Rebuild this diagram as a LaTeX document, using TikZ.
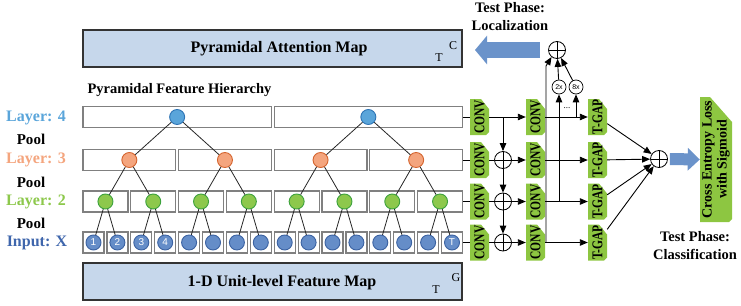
\documentclass[tikz,border=0pt]{standalone}
\usepackage{fontspec}
\setmainfont{Liberation Serif}
\newfontfamily\arialfont{Liberation Sans}
\usetikzlibrary{arrows.meta}

\definecolor{mapblue}{HTML}{C6D7EB}
\definecolor{arrowblue}{HTML}{6B93CA}
\definecolor{convgreen}{HTML}{8DC641}
\definecolor{layerfour}{HTML}{5AA5DA}
\definecolor{layerfourdk}{HTML}{2E74B5}
\definecolor{layerthree}{HTML}{F4A57E}
\definecolor{layerthreedk}{HTML}{D5652F}
\definecolor{layertwo}{HTML}{8DC84C}
\definecolor{layertwodk}{HTML}{3DA23D}
\definecolor{inputblue}{HTML}{658DC8}
\definecolor{inputbluedk}{HTML}{3B62A2}
\definecolor{inputtext}{HTML}{3F66AC}

\tikzset{
  mapbox/.style={draw=black!80, line width=1.3pt, fill=mapblue, inner sep=0pt},
  cellbox/.style={draw=black!50, line width=1.2pt, fill=white, inner sep=0pt, minimum height=21pt},
  unit/.style={circle, line width=0.9pt, minimum size=15pt, inner sep=0pt, text=white, font=\arialfont\fontsize{10}{10}\selectfont},
  edgeline/.style={black!85, line width=0.8pt},
  thinline/.style={line width=0.9pt},
  greenshape/.style 2 args={inner sep=0pt, path picture={
    \fill[convgreen] (path picture bounding box.south west) -- (path picture bounding box.north west)
      -- ([xshift=-#1]path picture bounding box.north east) -- ([yshift=-#2]path picture bounding box.north east)
      -- ([yshift=3pt]path picture bounding box.south east) -- ([xshift=-3pt]path picture bounding box.south east) -- cycle;}},
  conv/.style={greenshape={8pt}{10pt}, minimum width=19pt, minimum height=36pt, font=\bfseries\fontsize{11.5}{12}\selectfont},
  lossbox/.style={greenshape={22pt}{25pt}, minimum width=32pt, minimum height=125pt, font=\bfseries\fontsize{14}{15}\selectfont},
  oplus/.style={circle, draw, line width=0.8pt, minimum size=17pt, inner sep=0pt, path picture={
    \draw[line width=0.8pt] (path picture bounding box.north) -- (path picture bounding box.south)
      (path picture bounding box.west) -- (path picture bounding box.east);}},
  scaler/.style={circle, draw, line width=0.7pt, minimum size=14pt, inner sep=0pt, font=\arialfont\fontsize{7}{7}\selectfont},
  flow/.style={->, line width=0.9pt},
  mainttl/.style={font=\bfseries\fontsize{16}{18}\selectfont},
  sidetext/.style={font=\bfseries\fontsize{16}{18}\selectfont},
  pooltext/.style={font=\bfseries\fontsize{15}{18}\selectfont},
  phase/.style={font=\bfseries\fontsize{14.5}{18}\selectfont, align=center},
  corner/.style={font=\fontsize{12}{12}\selectfont, inner sep=0pt},
}
\newcommand\convtext[1]{\rotatebox{90}{\scalebox{1}[1.3]{#1}}\hspace{6pt}}

\begin{document}
\begin{tikzpicture}[x=1pt, y=-1pt, >={Triangle[length=8pt,width=6.5pt]}]
  \useasboundingbox (0,0) rectangle (741,305);

  % 上と下の箱
  \node[mapbox, minimum width=379pt, minimum height=37pt] (attbox) at (272.5,48.5) {};
  \node[mainttl] (atttext) at (279,49) {Pyramidal Attention Map};
  \node[corner] (attT) at (439,58) {T};
  \node[corner] (attC) at (453,46) {C};

  \node[mapbox, minimum width=379pt, minimum height=37pt] (featbox) at (272.5,281.5) {};
  \node[mainttl] (feattext) at (282,283) {1-D Unit-level Feature Map};
  \node[corner] (featT) at (436,290) {T};
  \node[corner] (featG) at (456,278) {G};

  \node[phase, anchor=west] (hier) at (84,90) {Pyramidal Feature Hierarchy};

  % 左の文字
  \node[sidetext, text=layerfour] (lab4) at (36,118) {Layer: 4};
  \node[pooltext] (pool4) at (31,139) {Pool};
  \node[sidetext, text=layerthree] (lab3) at (36,160) {Layer: 3};
  \node[pooltext] (pool3) at (31,182) {Pool};
  \node[sidetext, text=layertwo] (lab2) at (36,202) {Layer: 2};
  \node[pooltext] (pool2) at (31,223) {Pool};
  \node[sidetext, text=inputtext] (labin) at (37,243) {Input: X};

  % 入力
  \foreach \i/\t in {1/1,2/2,3/3,4/4,5/{},6/{},7/{},8/{},9/{},10/{},11/{},12/{},13/{},14/{},15/{},16/T} {
    \pgfmathsetmacro\xc{93.5+(\i-1)*23.9}
    \node[cellbox, minimum width=21pt] (bin\i) at (\xc,242.5) {};
    \node[unit, fill=inputblue, draw=inputbluedk] (in\i) at (\xc,242.5) {\t};
  }

  % Layer 2
  \foreach \i in {1,...,8} {
    \pgfmathsetmacro\xc{105.45+(\i-1)*47.8}
    \pgfmathtruncatemacro\ca{2*\i-1}
    \pgfmathtruncatemacro\cb{2*\i}
    \node[cellbox, minimum width=44.9pt] (bl2-\i) at (\xc,201.5) {};
    \node[unit, fill=layertwo, draw=layertwodk] (l2-\i) at (\xc,201.5) {};
    \draw[edgeline] (l2-\i) -- (in\ca);
    \draw[edgeline] (l2-\i) -- (in\cb);
  }

  % Layer 3
  \foreach \i in {1,...,4} {
    \pgfmathsetmacro\xc{129.35+(\i-1)*95.6}
    \pgfmathtruncatemacro\ca{2*\i-1}
    \pgfmathtruncatemacro\cb{2*\i}
    \node[cellbox, minimum width=92.7pt] (bl3-\i) at (\xc,160) {};
    \node[unit, fill=layerthree, draw=layerthreedk] (l3-\i) at (\xc,160) {};
    \draw[edgeline] (l3-\i) -- (l2-\ca);
    \draw[edgeline] (l3-\i) -- (l2-\cb);
  }

  % Layer 4
  \foreach \i in {1,2} {
    \pgfmathsetmacro\xc{177.15+(\i-1)*191.2}
    \pgfmathtruncatemacro\ca{2*\i-1}
    \pgfmathtruncatemacro\cb{2*\i}
    \node[cellbox, minimum width=188.3pt] (bl4-\i) at (\xc,117) {};
    \node[unit, fill=layerfour, draw=layerfourdk] (l4-\i) at (\xc,117) {};
    \draw[edgeline] (l4-\i) -- (l3-\ca);
    \draw[edgeline] (l4-\i) -- (l3-\cb);
  }

  % CONV と T-GAP
  \foreach \r/\y in {4/117,3/160,2/201.5,1/242.5} {
    \node[conv] (ca\r) at (479.5,\y) {\convtext{CONV}};
    \node[conv] (cb\r) at (535.5,\y) {\convtext{CONV}};
    \node[conv] (gap\r) at (597.5,\y) {\convtext{T-GAP}};
  }
  \draw[thinline] (bl4-2.east) -- (ca4.west);
  \draw[thinline] (bl3-4.east) -- (ca3.west);
  \draw[thinline] (bl2-8.east) -- (ca2.west);
  \draw[thinline] (bin16.east) -- (ca1.west);

  \node[oplus] (p3) at (503,160) {};
  \node[oplus] (p2) at (503,201.5) {};
  \node[oplus] (p1) at (503,242.5) {};
  \draw[flow] (ca4) -- (cb4);
  \draw[thinline] (ca3) -- (p3);
  \draw[thinline] (ca2) -- (p2);
  \draw[thinline] (ca1) -- (p1);
  \draw[flow] (p3) -- (cb3);
  \draw[flow] (p2) -- (cb2);
  \draw[flow] (p1) -- (cb1);
  \draw[flow] (p3 |- ca4) -- (p3);
  \draw[flow] (p3) -- (p2);
  \draw[flow] (p2) -- (p1);

  \foreach \r in {4,3,2,1}
    \draw[flow] (cb\r) -- (gap\r);

  % Localization
  \node[oplus] (pt) at (557,50) {};
  \node[scaler] (x2) at (559,87) {2x};
  \node[scaler] (x8) at (576,87) {8x};
  \node[font=\fontsize{9}{9}\selectfont] (dots) at (567,108) {...};
  \coordinate (k1) at (546,66);
  \draw[flow] (cb1.east -| k1) -- (k1) -- (pt.232);
  \draw[flow] (x2 |- cb2) -- (x2);
  \draw[flow] (x8 |- cb4) -- (x8);
  \draw[flow] (x2) -- (pt);
  \draw[flow] (x8) -- (pt);
  \coordinate (locend) at (475,50);
  \draw[arrowblue, line width=16pt, -{Triangle[length=12pt,width=28pt]}, shorten <=8pt] (pt.west) -- (locend);
  \node[phase] (testloc) at (510,17) {Test Phase:\\Localization};

  % Classification
  \node[oplus] (pf) at (659,159) {};
  \foreach \r in {4,3,2,1}
    \draw[flow] (gap\r) -- (pf);
  \node[lossbox] (loss) at (716,159.5) {\rotatebox{90}{\begin{tabular}{@{}c@{}}Cross Entropy Loss\\with Sigmoid\end{tabular}}};
  \draw[arrowblue, line width=12pt, -{Triangle[length=12pt,width=22pt]}, shorten <=2pt] (pf.east) -- (loss.west);
  \node[phase] (testcls) at (695,246) {Test Phase:\\Classification};
\end{tikzpicture}
\end{document}
